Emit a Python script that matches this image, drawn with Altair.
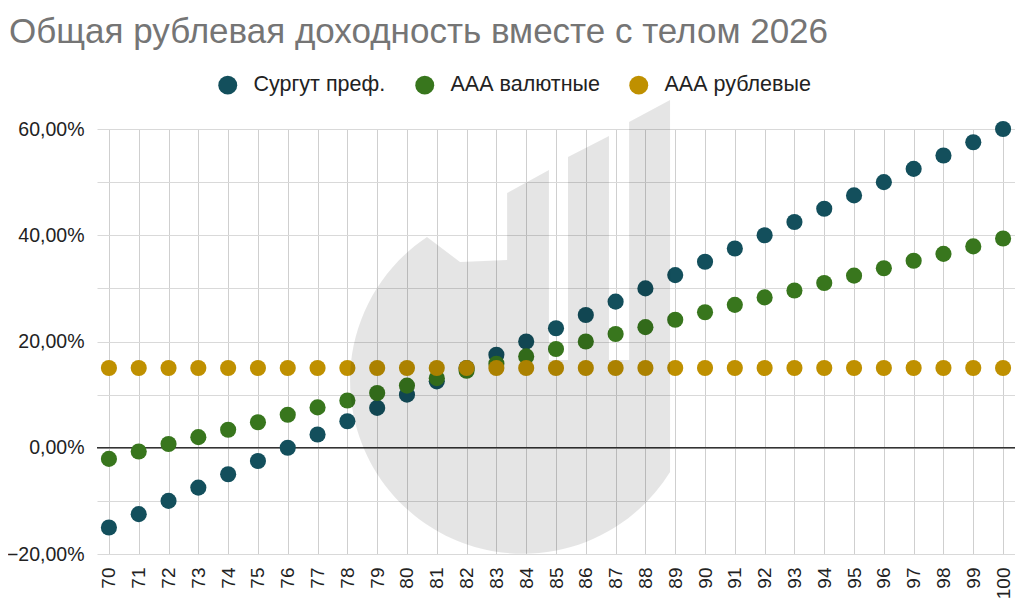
import altair as alt
import pandas as pd

x_vals = list(range(70, 101))
surgut = [-15.0, -12.5, -10.0, -7.5, -5.0, -2.5, 0.0, 2.5, 5.0, 7.5, 10.0,
          12.5, 15.0, 17.5, 20.0, 22.5, 25.0, 27.5, 30.0, 32.5, 35.0,
          37.5, 40.0, 42.5, 45.0, 47.5, 50.0, 52.5, 55.0, 57.5, 60.0]
aaa_usd = [-2.1, -0.7, 0.7, 2.0, 3.4, 4.8, 6.2, 7.6, 8.9, 10.3, 11.7,
           13.1, 14.5, 15.8, 17.2, 18.6, 20.0, 21.4, 22.7, 24.1, 25.5,
           26.9, 28.3, 29.6, 31.0, 32.4, 33.8, 35.2, 36.5, 37.9, 39.4]
aaa_rub = [15.0] * 31

series_names = ["Сургут преф.", "ААА валютные", "ААА рублевые"]
series_colors = ["#134f5c", "#38761d", "#bf9000"]

rows = []
for name, vals in zip(series_names, [surgut, aaa_usd, aaa_rub]):
    for xv, yv in zip(x_vals, vals):
        rows.append({"x": xv, "y": yv, "series": name})
df = pd.DataFrame(rows)

y_ticks = list(range(-20, 61, 5))
FONT = "Liberation Sans"

# decorative logo watermark (not data): one symbol drawn with a custom path
WM_PATH = ("M -0.555 -0.827 A 1 1 0 1 0 0.850 0.532 "
           "L 0.850 -1.618 L 0.613 -1.491 L 0.613 -0.116 L 0.497 -0.116 "
           "L 0.497 -1.410 L 0.260 -1.289 L 0.260 -0.116 L 0.150 -0.116 "
           "L 0.150 -1.214 L -0.092 -1.081 L -0.092 -0.694 L -0.364 -0.682 Z")
one = pd.DataFrame({"k": [0]})
watermark = alt.Chart(one).mark_point(
    shape=WM_PATH, size=346 * 346, filled=True, fill="#000000",
    fillOpacity=0.1, strokeWidth=0, opacity=1,
).encode(x=alt.value(426), y=alt.value(251))

points = alt.Chart(df).mark_circle(size=260, opacity=1).encode(
    x=alt.X("x:Q", scale=alt.Scale(domain=[69.6, 100.4], nice=False, zero=False),
            axis=alt.Axis(values=x_vals, labelAngle=270, labelAlign="right",
                          labelBaseline="middle", labelPadding=13, format="d",
                          title=None, domain=False, ticks=False,
                          gridColor="#cfcfcf", labelFontSize=19, labelColor="#222222",
                          labelFont=FONT)),
    y=alt.Y("y:Q", scale=alt.Scale(domain=[-20, 60], nice=False),
            axis=alt.Axis(values=y_ticks, title=None, domain=False, ticks=False,
                          labelExpr="datum.value % 20 == 0 ? replace(format(datum.value, '.2f'), '.', ',') + '%' : ''",
                          gridColor="#d9d9d9", labelFontSize=19.5, labelColor="#222222",
                          labelFont=FONT, labelPadding=13)),
    color=alt.Color("series:N",
                    scale=alt.Scale(domain=series_names, range=series_colors),
                    legend=alt.Legend(title=None, orient="none", direction="horizontal",
                                      legendX=120, legendY=-55, symbolType="circle",
                                      symbolSize=360, labelFontSize=21.5, labelFont=FONT,
                                      labelColor="#222222", columnPadding=28,
                                      labelOffset=15, symbolOpacity=1,
                                      symbolStrokeWidth=0)),
)

zero_df = pd.DataFrame({"y": [0]})
zero_rule = alt.Chart(zero_df).mark_rule(color="#333333", strokeWidth=1.3).encode(y="y:Q")

chart = alt.layer(zero_rule, points, watermark).properties(
    width=918, height=425,
    autosize=alt.AutoSizeParams(type="none"),
    padding={"left": 89, "top": 121, "right": 0, "bottom": 52},
    title=alt.TitleParams("Общая рублевая доходность вместе с телом 2026",
                          anchor="start", frame="group", fontSize=35, font=FONT,
                          fontWeight="normal", color="#757575", offset=24, dx=-88),
).configure_view(stroke=None)

chart.save("out.html", embed_options={"renderer": "svg", "actions": False})
